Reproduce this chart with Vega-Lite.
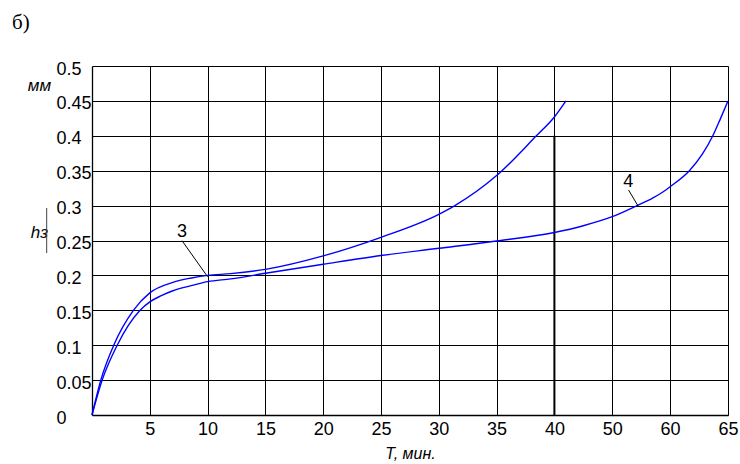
{
  "$schema": "https://vega.github.io/schema/vega-lite/v6.json",
  "autosize": "none",
  "width": 636,
  "height": 349,
  "padding": {"left": 92, "top": 66, "right": 12, "bottom": 49},
  "background": "white",
  "title": {"text": "б)", "anchor": "start", "frame": "group", "dx": -80, "offset": 27, "font": "Liberation Serif", "fontSize": 21, "fontWeight": "normal", "color": "black"},
  "config": {
    "view": {"stroke": null},
    "axis": {"labelFont": "Liberation Sans", "titleFont": "Liberation Sans", "labelColor": "black", "titleColor": "black", "gridColor": "black", "gridOpacity": 1, "gridWidth": 1, "domainColor": "black", "domainWidth": 1.3, "ticks": false, "tickSize": 0, "labelFlush": false, "labelOverlap": false}
  },
  "datasets": {
    "curves": [
      {"curve": "3", "t": 0, "h": 0},
      {"curve": "3", "t": 0.76, "h": 0.05},
      {"curve": "3", "t": 1.88, "h": 0.1},
      {"curve": "3", "t": 3.58, "h": 0.15},
      {"curve": "3", "t": 5, "h": 0.175},
      {"curve": "3", "t": 7, "h": 0.19},
      {"curve": "3", "t": 8.5, "h": 0.196},
      {"curve": "3", "t": 10, "h": 0.2},
      {"curve": "3", "t": 12, "h": 0.2025},
      {"curve": "3", "t": 15, "h": 0.2087},
      {"curve": "3", "t": 20, "h": 0.228},
      {"curve": "3", "t": 25, "h": 0.2546},
      {"curve": "3", "t": 30, "h": 0.2875},
      {"curve": "3", "t": 31.39, "h": 0.3},
      {"curve": "3", "t": 35, "h": 0.343},
      {"curve": "3", "t": 38.44, "h": 0.4},
      {"curve": "3", "t": 40, "h": 0.427},
      {"curve": "3", "t": 42, "h": 0.45},
      {"curve": "4", "t": 0, "h": 0},
      {"curve": "4", "t": 0.88, "h": 0.05},
      {"curve": "4", "t": 2.18, "h": 0.1},
      {"curve": "4", "t": 4.16, "h": 0.15},
      {"curve": "4", "t": 5, "h": 0.162},
      {"curve": "4", "t": 6, "h": 0.171},
      {"curve": "4", "t": 7, "h": 0.178},
      {"curve": "4", "t": 8.5, "h": 0.185},
      {"curve": "4", "t": 10, "h": 0.191},
      {"curve": "4", "t": 12, "h": 0.195},
      {"curve": "4", "t": 15, "h": 0.203},
      {"curve": "4", "t": 20, "h": 0.216},
      {"curve": "4", "t": 25, "h": 0.2285},
      {"curve": "4", "t": 30, "h": 0.2388},
      {"curve": "4", "t": 35, "h": 0.2493},
      {"curve": "4", "t": 40, "h": 0.2615},
      {"curve": "4", "t": 45, "h": 0.2712},
      {"curve": "4", "t": 50, "h": 0.2841},
      {"curve": "4", "t": 54.3, "h": 0.3},
      {"curve": "4", "t": 57, "h": 0.3108},
      {"curve": "4", "t": 58.5, "h": 0.318},
      {"curve": "4", "t": 60, "h": 0.327},
      {"curve": "4", "t": 61.67, "h": 0.35},
      {"curve": "4", "t": 62.8, "h": 0.374},
      {"curve": "4", "t": 63.69, "h": 0.4},
      {"curve": "4", "t": 64.36, "h": 0.425},
      {"curve": "4", "t": 65, "h": 0.45}
    ],
    "pointers": [
      {"t": 7.79, "h": 0.2497, "t2": 10, "h2": 0.1981},
      {"t": 52.83, "h": 0.3223, "t2": 54.48, "h2": 0.2994}
    ],
    "labels": [
      {"t": 7.79, "h": 0.2626, "label": "3"},
      {"t": 52.76, "h": 0.3342, "label": "4"}
    ],
    "marker40": [{"t": 40, "h": 0, "h2": 0.4}],
    "bar": [{"t": -3.92, "h": 0.232, "h2": 0.2966}]
  },
  "encoding": {
    "x": {
      "field": "t", "type": "quantitative",
      "scale": {"domain": [0, 40, 50, 60, 65], "range": [0, 462.4, 520.2, 578, 636], "nice": false, "zero": false},
      "axis": {"values": [5, 10, 15, 20, 25, 30, 35, 40, 50, 60, 65], "grid": true, "labelFontSize": 18, "labelPadding": 5, "title": "T, мин.", "titleFontSize": 16, "titleFontStyle": "italic", "titleFontWeight": "normal", "titlePadding": 7}
    },
    "y": {
      "field": "h", "type": "quantitative",
      "scale": {"domain": [0, 0.5], "nice": false, "zero": false},
      "axis": {"values": [0, 0.05, 0.1, 0.15, 0.2, 0.25, 0.3, 0.35, 0.4, 0.45, 0.5], "format": ".2~f", "grid": true, "labelFontSize": 18, "labelAlign": "left", "labelBaseline": "middle", "labelPadding": 36, "labelOffset": 3, "title": ["мм", "hз"], "titleAngle": 0, "titleX": -53, "titleY": 24, "titleAlign": "center", "titleBaseline": "alphabetic", "titleLineHeight": 147, "titleFontSize": 17, "titleFontStyle": "italic", "titleFontWeight": "normal"}
    }
  },
  "layer": [
    {
      "data": {"name": "marker40"},
      "mark": {"type": "rule", "color": "black", "strokeWidth": 2},
      "encoding": {"y2": {"field": "h2"}}
    },
    {
      "data": {"name": "curves"},
      "mark": {"type": "line", "color": "#0000ff", "strokeWidth": 1.4, "interpolate": "monotone"},
      "encoding": {"detail": {"field": "curve"}}
    },
    {
      "data": {"name": "pointers"},
      "mark": {"type": "rule", "color": "black", "strokeWidth": 1},
      "encoding": {"x2": {"field": "t2"}, "y2": {"field": "h2"}}
    },
    {
      "data": {"name": "labels"},
      "mark": {"type": "text", "font": "Liberation Sans", "fontSize": 18, "color": "black", "align": "center", "baseline": "middle"},
      "encoding": {"text": {"field": "label"}}
    },
    {
      "data": {"name": "bar"},
      "mark": {"type": "rule", "color": "#444444", "strokeWidth": 1},
      "encoding": {"y2": {"field": "h2"}}
    }
  ]
}
